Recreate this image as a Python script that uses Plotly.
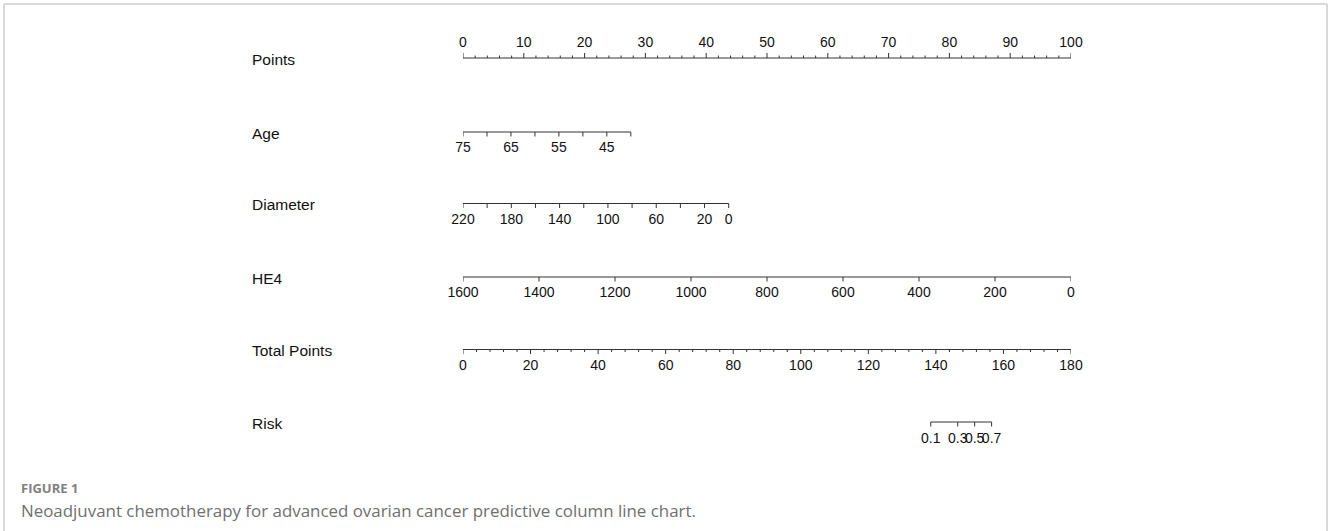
import math
import plotly.graph_objects as go

# ---- nomogram scales ------------------------------------------------------
# Points scale
POINTS_MAJOR = [0, 10, 20, 30, 40, 50, 60, 70, 80, 90, 100]
POINTS_MINOR = [v for v in range(0, 101, 2) if v % 10 != 0]

# Age (years): 75 -> 0 points, 40 -> max points
AGE_TICKS = [75, 70, 65, 60, 55, 50, 45, 40]
AGE_LABELS = [75, 65, 55, 45]
AGE_MAX_POINTS = 27.6

# Diameter (mm): 220 -> 0 points, 0 -> max points
DIAM_TICKS = [220, 200, 180, 160, 140, 120, 100, 80, 60, 40, 20, 0]
DIAM_LABELS = [220, 180, 140, 100, 60, 20, 0]
DIAM_MAX_POINTS = 43.7

# HE4: 1600 -> 0 points, 0 -> 100 points
HE4_TICKS = [1600, 1400, 1200, 1000, 800, 600, 400, 200, 0]
HE4_MAX_POINTS = 100.0

# Total points
TOTAL_MAJOR = [0, 20, 40, 60, 80, 100, 120, 140, 160, 180]
TOTAL_MINOR = [v for v in range(0, 181, 4) if v % 20 != 0]
TOTAL_MAX = 180

# Risk (logistic model on total points)
RISK_TICKS = [0.1, 0.3, 0.5, 0.7]
RISK_LABELS = ["0.1", "0.3", "0.5", "0.7"]
RISK_INTERCEPT = -25.60
RISK_SLOPE = 0.169

ROW_NAMES = ["Points", "Age", "Diameter", "HE4", "Total Points", "Risk"]

# ---- layout constants (pixels) -------------------------------------------
W, H = 1328, 531
X0_PX, X1_PX = 463, 1071
ROW_Y = [58, 132, 203.5, 277, 349.5, 422]
LABEL_X_PX = 250
INK = "#333333"
FONT = "Liberation Sans, Arial, Helvetica, sans-serif"
CAPTION_FONT = "Open Sans, sans-serif"


def lin(v, v0, v1, p1):
    """Map value v on [v0, v1] linearly onto points [0, p1]."""
    return (v - v0) / (v1 - v0) * p1


def total_to_points(tp):
    return tp * 100.0 / TOTAL_MAX


def risk_to_points(p):
    tp = (math.log(p / (1 - p)) - RISK_INTERCEPT) / RISK_SLOPE
    return total_to_points(tp)


fig = go.Figure()


def add_axis(xs_ticks, y, tick_len, direction, xs_minor=None, minor_len=0.0):
    """Draw an axis line with ticks; direction -1 = ticks up, +1 = ticks down."""
    lo, hi = min(xs_ticks), max(xs_ticks)
    xs, ys = [lo, hi, None], [y, y, None]
    for x in xs_ticks:
        xs += [x, x, None]
        ys += [y, y + direction * tick_len, None]
    for x in xs_minor or []:
        xs += [x, x, None]
        ys += [y, y + direction * minor_len, None]
    fig.add_trace(go.Scatter(x=xs, y=ys, mode="lines",
                             line=dict(color=INK, width=1),
                             hoverinfo="skip", showlegend=False))


def add_labels(xs, texts, y, size=14):
    fig.add_trace(go.Scatter(x=xs, y=[y] * len(xs), mode="text", text=texts,
                             textposition="middle center",
                             textfont=dict(family=FONT, size=size, color="#111111"),
                             hoverinfo="skip", showlegend=False, cliponaxis=False))


# Points
y = ROW_Y[0]
add_axis(POINTS_MAJOR, y, 5, -1, POINTS_MINOR, 2.5)
add_labels(POINTS_MAJOR, [str(v) for v in POINTS_MAJOR], y - 14.5)

# Age
y = ROW_Y[1]
age_pts = [lin(a, AGE_TICKS[0], AGE_TICKS[-1], AGE_MAX_POINTS) for a in AGE_TICKS]
add_axis(age_pts, y, 4.5, 1)
add_labels([lin(a, AGE_TICKS[0], AGE_TICKS[-1], AGE_MAX_POINTS) for a in AGE_LABELS],
           [str(a) for a in AGE_LABELS], y + 16)

# Diameter
y = ROW_Y[2]
diam_pts = [lin(d, DIAM_TICKS[0], DIAM_TICKS[-1], DIAM_MAX_POINTS) for d in DIAM_TICKS]
add_axis(diam_pts, y, 4.5, 1)
add_labels([lin(d, DIAM_TICKS[0], DIAM_TICKS[-1], DIAM_MAX_POINTS) for d in DIAM_LABELS],
           [str(d) for d in DIAM_LABELS], y + 17)

# HE4
y = ROW_Y[3]
he4_pts = [lin(h, HE4_TICKS[0], HE4_TICKS[-1], HE4_MAX_POINTS) for h in HE4_TICKS]
add_axis(he4_pts, y, 4.5, 1)
add_labels(he4_pts, [str(h) for h in HE4_TICKS], y + 16.5)

# Total Points
y = ROW_Y[4]
add_axis([total_to_points(t) for t in TOTAL_MAJOR], y, 4.5, 1,
         [total_to_points(t) for t in TOTAL_MINOR], 2.5)
add_labels([total_to_points(t) for t in TOTAL_MAJOR], [str(t) for t in TOTAL_MAJOR], y + 17)

# Risk
y = ROW_Y[5]
risk_pts = [risk_to_points(p) for p in RISK_TICKS]
add_axis(risk_pts, y, 4.5, 1)
add_labels(risk_pts, RISK_LABELS, y + 17)

# Row names
for name, ry in zip(ROW_NAMES, ROW_Y):
    fig.add_annotation(x=LABEL_X_PX / W, y=ry + 1, xref="paper", yref="y",
                       text=name, showarrow=False, xanchor="left", yanchor="middle",
                       font=dict(family=FONT, size=15.5, color="#111111"))

# Caption
fig.add_annotation(x=19 / W, y=488, xref="paper", yref="y", text="<b>FIGURE 1</b>",
                   showarrow=False, xanchor="left", yanchor="middle",
                   font=dict(family=CAPTION_FONT, size=13, color="#808080"))
fig.add_annotation(x=19 / W, y=510, xref="paper", yref="y",
                   text="Neoadjuvant chemotherapy for advanced ovarian cancer predictive column line chart.",
                   showarrow=False, xanchor="left", yanchor="middle",
                   font=dict(family=CAPTION_FONT, size=16.9, color="#707070"))

# Frame
fig.add_shape(type="line", xref="paper", yref="paper", x0=4 / W, x1=4 / W, y0=0, y1=1 - 4 / H,
              line=dict(color="#cccccc", width=1.5))
fig.add_shape(type="line", xref="paper", yref="paper", x0=4 / W, x1=1327 / W,
              y0=1 - 4 / H, y1=1 - 4 / H, line=dict(color="#cccccc", width=1.5))
fig.add_shape(type="line", xref="paper", yref="paper", x0=1327 / W, x1=1327 / W,
              y0=0, y1=1 - 4 / H, line=dict(color="#cccccc", width=1.5))

fig.update_layout(
    width=W, height=H, autosize=False,
    margin=dict(l=0, r=0, t=0, b=0),
    paper_bgcolor="white", plot_bgcolor="white",
    showlegend=False,
    xaxis=dict(domain=[X0_PX / W, X1_PX / W], range=[0, 100], visible=False, fixedrange=True),
    yaxis=dict(domain=[0, 1], range=[H, 0], visible=False, fixedrange=True),
)

fig.write_html("out.html")
